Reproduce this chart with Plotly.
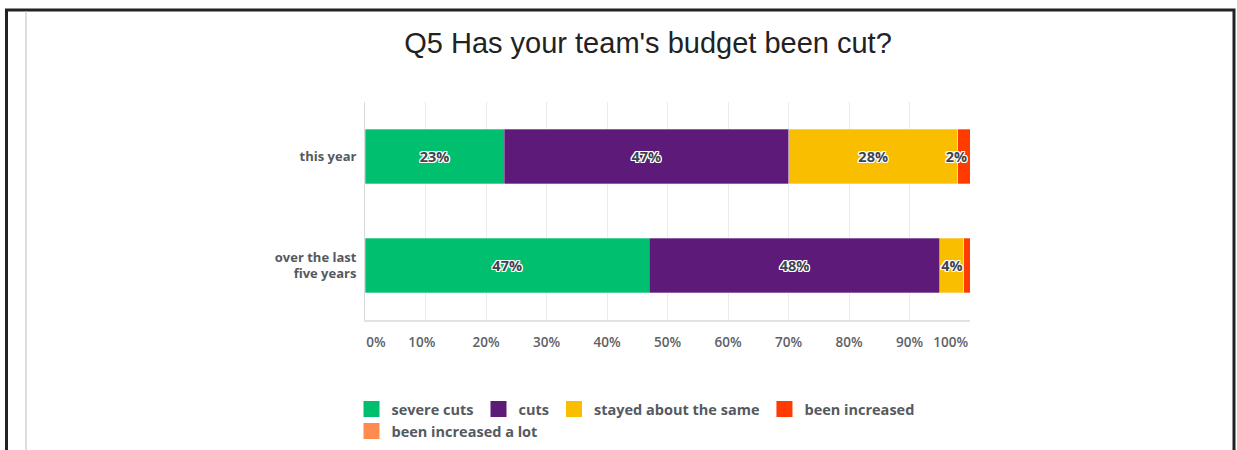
import plotly.graph_objects as go

# ---- data -------------------------------------------------------------
categories = ["this year", "over the last<br>five years"]
series_names = ["severe cuts", "cuts", "stayed about the same",
                "been increased", "been increased a lot"]
severe_cuts = [23, 47]
cuts = [47, 48]
stayed_same = [28, 4]
been_increased = [2, 1]
increased_a_lot = [0, 0]
series_values = [severe_cuts, cuts, stayed_same, been_increased, increased_a_lot]
# labels printed on the segments ("" where the segment is too small)
bar_labels = [["23%", "47%"], ["47%", "48%"], ["28%", "4%"], ["2%", ""], ["", ""]]
# narrow last segments keep their label flush with the bar end
label_anchor = ["middle", "middle", "middle", "end", "middle"]

tick_values = [0, 10, 20, 30, 40, 50, 60, 70, 80, 90, 100]
tick_labels = ["0%", "10%", "20%", "30%", "40%", "50%", "60%", "70%", "80%", "90%", "100%"]
# end labels are pulled inward so they stay inside the plot width
tick_label_pos = [1.8, 9.4, 20, 30, 40, 50, 60, 70, 80, 90, 96.8]

colors = ["#00BF6F", "#5E1A78", "#F9BE00", "#FF3B00", "#FF8B4F"]

# ---- geometry ---------------------------------------------------------
W, H = 1237, 450
L, R, T, B = 365, 970, 102, 320


def px_x(p):
    return (p - L) / (R - L)


def px_y(p):
    return (B - p) / (B - T)


label_font = "Open Sans"
label_shadow = ("1px 1px 0 #fff, -1px -1px 0 #fff, 1px -1px 0 #fff, "
                "-1px 1px 0 #fff, 0 1px 0 #fff, 0 -1px 0 #fff, 1px 0 0 #fff, -1px 0 0 #fff")

fig = go.Figure()

for name, vals, txt, anchor, col in zip(series_names, series_values, bar_labels,
                                        label_anchor, colors):
    fig.add_trace(go.Bar(
        y=categories, x=vals, name=name, orientation="h",
        marker=dict(color=col, line=dict(color="rgba(255,255,255,0.6)", width=0.5)),
        text=txt, textposition="inside", insidetextanchor=anchor,
        constraintext="none", textangle=0,
        textfont=dict(family=label_font, size=14.5, color="#3E4350",
                      weight=700, shadow=label_shadow),
        showlegend=False, hoverinfo="skip",
    ))

# legend entries (square swatches), split into two rows
for i, (name, col) in enumerate(zip(series_names, colors)):
    fig.add_trace(go.Scatter(
        x=[None], y=[None], mode="markers", name=name,
        marker=dict(symbol="square", size=16, color=col),
        legend="legend" if i < 4 else "legend2",
        showlegend=True, hoverinfo="skip",
    ))

# carrier for the tick-label axis
fig.add_trace(go.Scatter(x=[None], y=[None], xaxis="x2", showlegend=False,
                         hoverinfo="skip"))

# frame around the figure
frame_l, frame_t, frame_r, frame_b = 6.5, 10, 1234, 460
shapes = [
    dict(type="path", xref="paper", yref="paper",
         path=(f"M {px_x(frame_l)},{px_y(frame_b)} L {px_x(frame_l)},{px_y(frame_t)} "
               f"L {px_x(frame_r)},{px_y(frame_t)} L {px_x(frame_r)},{px_y(frame_b)}"),
         line=dict(color="#222222", width=3), layer="above"),
    dict(type="line", xref="paper", yref="paper",
         x0=px_x(26), x1=px_x(26), y0=px_y(frame_t + 1), y1=px_y(frame_b),
         line=dict(color="#BDBDBD", width=1), layer="above"),
]

legend_font = dict(family=label_font, size=14.5, color="#555A60", weight=700)

fig.update_layout(
    width=W, height=H,
    template="none",
    paper_bgcolor="white", plot_bgcolor="white",
    margin=dict(l=L, r=W - R, t=T, b=H - B, autoexpand=False),
    barmode="stack", bargap=0.5,
    title=dict(text="Q5 Has your team's budget been cut?",
               font=dict(family="Liberation Sans, Arial", size=29, color="#222222"),
               x=648 / W, xref="container", xanchor="center",
               y=1 - 43 / H, yref="container", yanchor="middle"),
    xaxis=dict(range=[0, 100], tickvals=tick_values, showticklabels=False,
               showgrid=True, gridcolor="#EBEBEB", gridwidth=1,
               zeroline=False, showline=True, linecolor="#E2E2E2", linewidth=2,
               ticks="", fixedrange=True),
    xaxis2=dict(range=[0, 100], overlaying="x", anchor="y", side="bottom",
                tickmode="array", tickvals=tick_label_pos, ticktext=tick_labels,
                showgrid=False, zeroline=False, showline=False, ticks="",
                ticklabelstandoff=12,
                tickfont=dict(family=label_font, size=13.5, color="#5E6166", weight=600)),
    yaxis=dict(autorange="reversed", showgrid=False, zeroline=False,
               showline=True, linecolor="#DADADA", linewidth=1, ticks="",
               ticklabelstandoff=5,
               tickfont=dict(family=label_font, size=13, color="#55595F", weight=700)),
    legend=dict(orientation="h", traceorder="normal", x=px_x(351.5), xanchor="left",
                y=px_y(393), yanchor="top", font=legend_font,
                bgcolor="rgba(0,0,0,0)", itemclick=False),
    legend2=dict(orientation="h", traceorder="normal", x=px_x(351.5), xanchor="left",
                 y=px_y(415), yanchor="top", font=legend_font,
                 bgcolor="rgba(0,0,0,0)", itemclick=False),
    shapes=shapes,
)

fig.write_html("out.html")
